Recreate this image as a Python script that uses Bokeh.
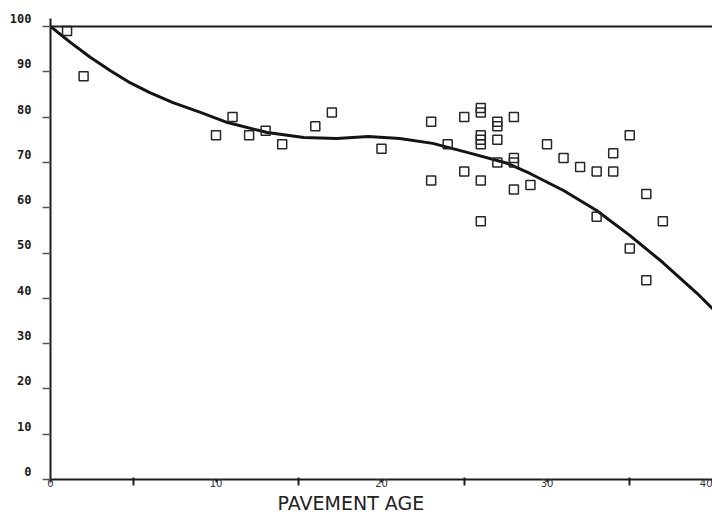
from bokeh.plotting import figure
from bokeh.models import Range1d, FixedTicker, Span, Title, LinearAxis
from bokeh.embed import file_html
from bokeh.resources import INLINE

# Observed data (pavement age vs condition index)
ages = [1, 2, 10, 11, 12, 13, 14, 16, 17, 20, 23, 23, 24, 25, 25,
        26, 26, 26, 26, 26, 26, 26, 27, 27, 27, 27, 28, 28, 28, 28,
        29, 30, 31, 32, 33, 33, 34, 34, 35, 35, 36, 36, 37]
values = [99, 89, 76, 80, 76, 77, 74, 78, 81, 73, 79, 66, 74, 80, 68,
          82, 81, 76, 75, 74, 66, 57, 79, 78, 75, 70, 80, 71, 70, 64,
          65, 74, 71, 69, 68, 58, 72, 68, 76, 51, 63, 44, 57]

# Fitted curve
curve_x = [0, 1.2, 2.4, 3.6, 4.8, 6, 7.4, 9.1, 10.7, 13.1, 15.3, 17.3, 19.2,
           21.1, 23.1, 25.4, 27.6, 29.0, 31.0, 33.0, 35.0, 37.0, 39.1, 40]
curve_y = [100, 96.5, 93.2, 90.3, 87.6, 85.4, 83.2, 81, 78.8, 76.6, 75.5, 75.3, 75.7,
           75.3, 74.2, 72.0, 69.8, 67.5, 63.8, 59.4, 53.9, 47.9, 41.0, 37.7]

x_ticks = [0, 10, 20, 30, 40]
x_minor = [5, 15, 25, 35]
y_ticks = [0, 10, 20, 30, 40, 50, 60, 70, 80, 90, 100]
x_title = "PAVEMENT AGE"

ink = "#1c1c1c"
lift = 1.77  # y-units that the tick labels sit above their ticks

p = figure(width=712, height=514, output_backend="svg", toolbar_location=None,
           x_range=Range1d(0, 40), y_range=Range1d(0, 100 + lift),
           min_border_left=50, min_border_right=0, min_border_top=18, min_border_bottom=35)
p.extra_y_ranges = {"lab": Range1d(-lift, 100)}
p.outline_line_color = None
p.grid.visible = False
p.background_fill_color = "white"
p.border_fill_color = "white"

p.line(curve_x, curve_y, line_width=3, line_color="#141414", line_join="round")
p.scatter(ages, values, marker="square", size=9, fill_color=None,
          line_color="#262626", line_width=1.5)

p.add_layout(Span(location=100, dimension="width", line_color=ink, line_width=2))

xa = p.xaxis[0]
xa.ticker = FixedTicker(ticks=x_ticks, minor_ticks=x_minor)
xa.axis_line_width = 2
xa.axis_line_color = ink
xa.major_tick_out = 3
xa.major_tick_in = 0
xa.major_tick_line_width = 2
xa.major_tick_line_color = ink
xa.minor_tick_in = 2
xa.minor_tick_out = 6
xa.minor_tick_line_width = 2
xa.minor_tick_line_color = ink
xa.major_label_standoff = -7
xa.major_label_text_font = "DejaVu Sans"
xa.major_label_text_font_size = "10px"
xa.major_label_text_color = "#333333"

ya = p.yaxis[0]
ya.ticker = FixedTicker(ticks=y_ticks)
ya.axis_line_width = 2
ya.axis_line_color = ink
ya.major_tick_out = 8
ya.major_tick_in = 0
ya.major_tick_line_width = 1.5
ya.major_tick_line_color = "#555555"
ya.minor_tick_line_color = None
ya.major_label_standoff = 0
ya.major_label_text_font_size = "0px"
ya.major_label_text_color = None

la = LinearAxis(y_range_name="lab", ticker=FixedTicker(ticks=y_ticks))
la.axis_line_color = None
la.major_tick_line_color = None
la.minor_tick_line_color = None
la.major_label_standoff = 5
la.major_label_text_font = "DejaVu Sans Mono"
la.major_label_text_font_style = "bold"
la.major_label_text_font_size = "12px"
la.major_label_text_color = ink
p.add_layout(la, "left")

p.add_layout(Title(text=x_title, align="left", offset=227, standoff=0,
                   text_font="DejaVu Sans", text_font_style="normal",
                   text_font_size="19px", text_color="#222222"), "below")

open("out.html", "w").write(file_html(p, INLINE))
